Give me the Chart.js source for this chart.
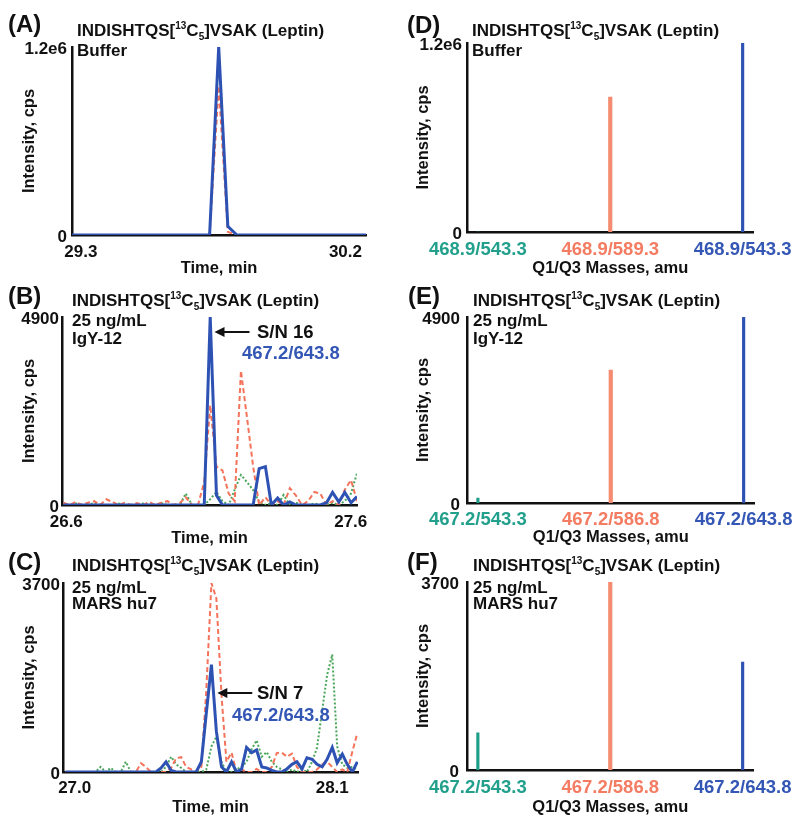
<!DOCTYPE html>
<html>
<head>
<meta charset="utf-8">
<script src="https://cdn.jsdelivr.net/npm/chart.js@4.4.1/dist/chart.umd.min.js"></script>
<style>
  body { margin: 0; background: #fff; width: 800px; height: 823px; position: relative; overflow: hidden;
         font-family: "Liberation Sans", Arial, sans-serif; font-weight: bold; color: #111; }
  canvas { position: absolute; }
  .t { position: absolute; transform: translateY(-50%); line-height: 1; white-space: nowrap; font-size: 17px; }
  .lbl { font-size: 24px; }
  .big { font-size: 18.5px; }
  .t sup, .t sub { font-size: 10px; line-height: 0; }
</style>
</head>
<body>
<canvas id="cA" width="400" height="285" style="left:0;top:0"></canvas>
<canvas id="cD" width="400" height="285" style="left:400px;top:0"></canvas>
<canvas id="cB" width="400" height="285" style="left:0;top:270px"></canvas>
<canvas id="cE" width="400" height="285" style="left:400px;top:270px"></canvas>
<canvas id="cC" width="400" height="283" style="left:0;top:540px"></canvas>
<canvas id="cF" width="400" height="283" style="left:400px;top:540px"></canvas>

<!-- panel headers -->
<div class="t lbl" style="left:8px;top:24px">(A)</div>
<div class="t" style="left:77px;top:30px">INDISHTQS[<sup>13</sup>C<sub>5</sub>]VSAK (Leptin)</div>
<div class="t" style="left:77px;top:50px">Buffer</div>

<div class="t lbl" style="left:407px;top:25px">(D)</div>
<div class="t" style="left:472px;top:30px">INDISHTQS[<sup>13</sup>C<sub>5</sub>]VSAK (Leptin)</div>
<div class="t" style="left:472px;top:50px">Buffer</div>

<div class="t lbl" style="left:8px;top:296px">(B)</div>
<div class="t" style="left:72px;top:300px">INDISHTQS[<sup>13</sup>C<sub>5</sub>]VSAK (Leptin)</div>
<div class="t" style="left:72px;top:320px">25 ng/mL</div>
<div class="t" style="left:72px;top:338px">IgY-12</div>
<div class="t big" style="left:257px;top:332px">S/N 16</div>
<div class="t big" style="left:242px;top:353px;color:#3457b5">467.2/643.8</div>

<div class="t lbl" style="left:408px;top:296px">(E)</div>
<div class="t" style="left:473px;top:300px">INDISHTQS[<sup>13</sup>C<sub>5</sub>]VSAK (Leptin)</div>
<div class="t" style="left:473px;top:320px">25 ng/mL</div>
<div class="t" style="left:473px;top:338px">IgY-12</div>

<div class="t lbl" style="left:8px;top:562px">(C)</div>
<div class="t" style="left:72px;top:565px">INDISHTQS[<sup>13</sup>C<sub>5</sub>]VSAK (Leptin)</div>
<div class="t" style="left:72px;top:587px">25 ng/mL</div>
<div class="t" style="left:72px;top:603px">MARS hu7</div>
<div class="t big" style="left:257px;top:693px">S/N 7</div>
<div class="t big" style="left:232px;top:715px;color:#3457b5">467.2/643.8</div>

<div class="t lbl" style="left:407px;top:562px">(F)</div>
<div class="t" style="left:473px;top:565px">INDISHTQS[<sup>13</sup>C<sub>5</sub>]VSAK (Leptin)</div>
<div class="t" style="left:473px;top:587px">25 ng/mL</div>
<div class="t" style="left:473px;top:603px">MARS hu7</div>

<script>
const FONT = "'Liberation Sans', Arial, sans-serif";
const BLUE = '#2d52b3', RED = '#f4735a', GREEN = '#4aa65a';
const STICK_COLORS = ['#1f9e89', '#f58b70', '#2d52b3'];
const LABEL_COLORS = ['#22a08c', '#f47c62', '#3457b5'];

// (A) buffer, XIC
const timesA = [29.27, 29.55, 29.738, 29.769, 29.800, 29.831, 30.00, 30.27];
const blueA  = [0, 0, 0, 1200000, 55000, 0, 0, 0];
const redA   = [0, 0, 0, 950000, 20000, 0, 0, 0];
const xTicksA = [29.3, 30.2];
const xLabelsA = ['29.3', '30.2'];
const yLabelsA = ['0', '1.2e6'];

// (B) IgY-12
const timesB = [26.590, 26.612, 26.633, 26.655, 26.676, 26.698, 26.719, 26.741, 26.762, 26.784,
                26.805, 26.827, 26.848, 26.870, 26.891, 26.913, 26.934, 26.956, 26.977, 26.999,
                27.020, 27.042, 27.063, 27.085, 27.106, 27.128, 27.149, 27.171, 27.192, 27.214,
                27.235, 27.257, 27.278, 27.300, 27.321, 27.343, 27.364, 27.386, 27.407, 27.429,
                27.450, 27.472, 27.493, 27.515, 27.536, 27.558, 27.579, 27.601, 27.622];
const blueB  = [0,0,0,0,0,0,0,0,0,0, 0,0,0,0,0,0,0,0,0,0, 0,0,0,0,4900,250,0,0,0,0,
                0,0,950,1000,0,180,0,80,0,0, 0,0,0,60,330,80,330,60,220];
const redB   = [60,0,80,0,60,100,0,150,80,0, 60,0,50,0,80,0,60,100,0,50, 200,0,0,600,2600,1000,900,300,100,3500,
                2300,1000,0,200,0,100,0,440,250,0, 100,340,300,0,100,0,400,650,100];
const greenB = [0,0,40,0,0,50,0,0,0,40, 0,0,0,40,0,0,50,0,0,0, 300,0,0,0,150,340,100,0,400,780,
                600,390,80,0,50,0,260,0,60,0, 0,40,0,0,60,0,100,300,830];
const xTicksB = [26.6, 27.6];
const xLabelsB = ['26.6', '27.6'];
const yLabelsB = ['0', '4900'];

// (C) MARS hu7
const timesC = [26.960, 26.982, 27.003, 27.025, 27.046, 27.068, 27.089, 27.111, 27.132, 27.154,
                27.175, 27.197, 27.218, 27.240, 27.261, 27.283, 27.304, 27.326, 27.347, 27.369,
                27.390, 27.412, 27.433, 27.455, 27.476, 27.498, 27.519, 27.541, 27.562, 27.584,
                27.605, 27.627, 27.648, 27.670, 27.691, 27.713, 27.734, 27.756, 27.777, 27.799,
                27.820, 27.842, 27.863, 27.885, 27.906, 27.928, 27.949, 27.971, 27.992, 28.014,
                28.035, 28.057, 28.078, 28.100, 28.121, 28.143, 28.164, 28.186, 28.207];
const blueC  = [0,0,0,0,0,0,0,0,0,0, 0,0,0,0,0,0,0,0,0,80, 200,30,0,0,0,0,0,200,1150,2100,
                800,100,0,200,0,60,480,380,430,100, 80,30,0,0,60,150,200,60,280,250,
                150,100,250,480,180,350,150,0,200];
const redC   = [0,0,0,0,0,0,0,0,0,0, 0,0,0,0,0,170,100,0,0,0, 0,80,270,290,100,50,0,100,1600,3700,
                3400,1500,200,380,0,50,0,0,60,0, 0,100,370,380,300,360,100,0,0,0,
                50,150,200,100,0,50,0,400,760];
const greenC = [0,0,0,0,0,0,0,100,0,80, 0,0,200,0,0,0,0,0,0,0, 100,300,150,80,0,0,0,0,50,500,
                690,200,0,0,50,100,200,450,620,300, 390,200,100,50,0,50,0,50,0,200,
                480,1200,1900,2300,500,150,80,100,50];
const xTicksC = [27.0, 28.1];
const xLabelsC = ['27.0', '28.1'];
const yLabelsC = ['0', '3700'];

// (D)-(F) Q1/Q3 transitions
const massesD = ['468.9/543.3', '468.9/589.3', '468.9/543.3'];
const valuesD = [0, 857000, 1200000];
const massesE = ['467.2/543.3', '467.2/586.8', '467.2/643.8'];
const valuesE = [130, 3500, 4900];
const massesF = ['467.2/543.3', '467.2/586.8', '467.2/643.8'];
const valuesF = [730, 3700, 2125];

Chart.defaults.font.family = FONT;
Chart.defaults.font.weight = 'bold';
Chart.defaults.color = '#111';

// arrow pointing at the 467.2/643.8 peak
const snArrow = {
  id: 'snArrow',
  afterDatasetsDraw(chart, args, opts) {
    if (!opts || opts.x === undefined) return;
    const { ctx, scales: { x, y } } = chart;
    const px = x.getPixelForValue(opts.x), py = y.getPixelForValue(opts.y);
    ctx.save();
    ctx.strokeStyle = '#111'; ctx.fillStyle = '#111'; ctx.lineWidth = 2;
    ctx.beginPath(); ctx.moveTo(px + 6, py); ctx.lineTo(px + opts.len, py); ctx.stroke();
    ctx.beginPath(); ctx.moveTo(px, py); ctx.lineTo(px + 10, py - 5); ctx.lineTo(px + 10, py + 5); ctx.closePath(); ctx.fill();
    ctx.restore();
  }
};
Chart.register(snArrow);

function baseOptions(p) {
  const xh = p.titleOff + 12;
  return {
    responsive: false,
    animation: false,
    layout: { padding: { left: 0, top: p.top, right: p.w - p.right, bottom: p.h - p.bottom - xh } },
    plugins: { legend: { display: false }, tooltip: { enabled: false }, snArrow: p.arrow || false },
    scales: {
      x: {
        type: 'linear', min: p.xMin, max: p.xMax, offset: false,
        grid: { display: false, drawTicks: false },
        border: { color: '#111', width: 2.5 },
        afterFit: s => { s.height = xh; },
        afterBuildTicks: s => { s.ticks = p.xTicks.map(v => ({ value: v })); },
        ticks: {
          autoSkip: false, maxRotation: 0, padding: p.tickOff - (p.xTickSize || 17) * 0.6,
          font: { size: p.xTickSize || 17, weight: 'bold' },
          color: p.xTickColors ? (c => p.xTickColors[c.index]) : '#111',
          callback: (v, i) => p.xLabels[i]
        },
        title: { display: true, text: p.xTitle, font: { size: 16.5, weight: 'bold' }, color: '#111',
                 padding: { top: 0, bottom: xh - p.titleOff - 9.9 } }
      },
      y: {
        min: 0, max: p.yMax,
        grid: { display: false, drawTicks: false },
        border: { color: '#111', width: 2.5 },
        afterFit: s => { s.width = p.left; },
        afterBuildTicks: s => { s.ticks = [{ value: 0 }, { value: p.yMax }]; },
        ticks: { padding: p.yPad, labelOffset: 2, font: { size: 17, weight: 'bold' }, color: '#111',
                 callback: (v, i) => p.yLabels[i] },
        title: { display: true, text: 'Intensity, cps', font: { size: 16.5, weight: 'bold' }, color: '#111',
                 padding: { top: p.yTitlePad, bottom: 0 } }
      }
    }
  };
}

function xic(id, p, times, blue, red, green) {
  const pts = arr => times.map((t, i) => ({ x: t, y: arr[i] }));
  const datasets = [
    { data: pts(blue), borderColor: BLUE, borderWidth: 3, pointRadius: 0, tension: 0 }
  ];
  if (red) datasets.push({ data: pts(red), borderColor: RED, borderWidth: 2, borderDash: [5, 3], pointRadius: 0, tension: 0 });
  if (green) datasets.push({ data: pts(green), borderColor: GREEN, borderWidth: 2, borderDash: [2, 2], pointRadius: 0, tension: 0 });
  new Chart(document.getElementById(id), { type: 'line', data: { datasets }, options: baseOptions(p) });
}

function sticks(id, p, values) {
  const widths = [2.5, 3.5, 2.5];
  const datasets = values.map((v, i) => ({
    data: [{ x: i, y: v }], backgroundColor: STICK_COLORS[i], barThickness: widths[i], grouped: false
  }));
  new Chart(document.getElementById(id), { type: 'bar', data: { datasets }, options: baseOptions(p) });
}

xic('cA', { w: 400, h: 285, left: 72, top: 47, right: 366, bottom: 235, tickOff: 17, titleOff: 33,
            yPad: 5, yTitlePad: 19.5, xMin: 29.27, xMax: 30.27, xTicks: xTicksA, xLabels: xLabelsA,
            yMax: 1200000, yLabels: yLabelsA, xTitle: 'Time, min' }, timesA, blueA, redA, null);

xic('cB', { w: 400, h: 285, left: 62, top: 47, right: 357, bottom: 235, tickOff: 17, titleOff: 33,
            yPad: 3, yTitlePad: 19.5, xMin: 26.585, xMax: 27.622, xTicks: xTicksB, xLabels: xLabelsB,
            yMax: 4900, yLabels: yLabelsB, xTitle: 'Time, min',
            arrow: { x: 27.121, y: 4509, len: 35 } }, timesB, blueB, redB, greenB);

xic('cC', { w: 400, h: 283, left: 63, top: 43, right: 358, bottom: 232, tickOff: 16, titleOff: 35,
            yPad: 3, yTitlePad: 19.5, xMin: 26.95, xMax: 28.21, xTicks: xTicksC, xLabels: xLabelsC,
            yMax: 3700, yLabels: yLabelsC, xTitle: 'Time, min',
            arrow: { x: 27.609, y: 1547, len: 35 } }, timesC, blueC, redC, greenC);

const stickBase = { w: 400, left: 67, right: 358, yTitlePad: 13.5, xMin: -0.082, xMax: 2.082,
                    xTicks: [0, 1, 2], xTickSize: 18.5, xTickColors: LABEL_COLORS, xTitle: 'Q1/Q3 Masses, amu' };

sticks('cD', Object.assign({}, stickBase, { h: 285, top: 43, bottom: 232, tickOff: 18, titleOff: 36, yPad: 5,
            xLabels: massesD, yMax: 1200000, yLabels: yLabelsA }), valuesD);
sticks('cE', Object.assign({}, stickBase, { h: 285, top: 47, bottom: 233, tickOff: 17, titleOff: 34, yPad: 7,
            xLabels: massesE, yMax: 4900, yLabels: yLabelsB }), valuesE);
sticks('cF', Object.assign({}, stickBase, { h: 283, top: 42, bottom: 230, tickOff: 18, titleOff: 37, yPad: 8,
            xLabels: massesF, yMax: 3700, yLabels: yLabelsC }), valuesF);
</script>
</body>
</html>
